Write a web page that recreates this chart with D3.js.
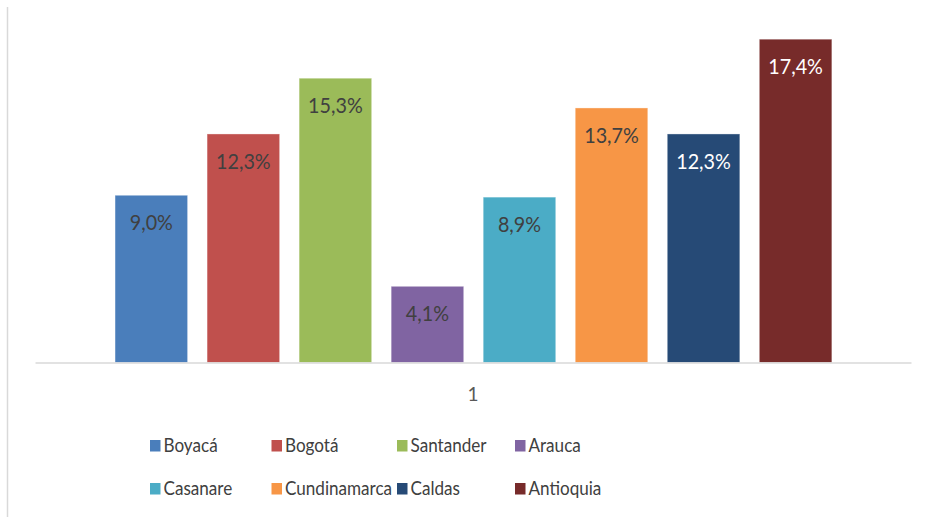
<!DOCTYPE html>
<html>
<head>
<meta charset="utf-8">
<script src="https://cdn.jsdelivr.net/npm/d3@7"></script>
<style>
  body { margin: 0; background: #fff; }
  svg { display: block; font-family: Lato, "Open Sans", sans-serif; }
</style>
</head>
<body>
<svg width="936" height="517"></svg>
<script>
// data
var regions = ["Boyacá", "Bogotá", "Santander", "Arauca", "Casanare", "Cundinamarca", "Caldas", "Antioquia"]
var shares = [9.0, 12.3, 15.3, 4.1, 8.9, 13.7, 12.3, 17.4]
var colors = ["#4a7ebb", "#c0504d", "#9bbb59", "#8064a2", "#4bacc6", "#f79646", "#264a76", "#772b2a"]
var labelColors = ["#404040", "#404040", "#404040", "#404040", "#404040", "#404040", "#ffffff", "#ffffff"]
var category = ["1"]

var svg = d3.select("svg")

var baseY = 362.5

// chart area frame line on the left
svg.append("line")
    .attr("x1", 7.5).attr("x2", 7.5)
    .attr("y1", 7).attr("y2", 517)
    .attr("stroke", "#d9d9d9")
    .attr("stroke-width", 1.5)

var xScale = d3.scaleBand()
    .domain(regions)
    .range([105.3, 841.6])
    .paddingInner(0.212)
    .paddingOuter(0.106)

var catScale = d3.scaleBand()
    .domain(category)
    .range([35, 911])

var yScale = d3.scaleLinear()
    .domain([0, 20])
    .range([baseY, baseY - 20 * 18.58])

var rows = regions.map(function(r, i) {
    return {name: r, value: shares[i], color: colors[i], labelColor: labelColors[i]}
})

// bars
svg.append("g")
    .selectAll("rect")
    .data(rows)
    .enter()
    .append("rect")
    .attr("x", function(d) { return xScale(d.name) })
    .attr("y", function(d) { return yScale(d.value) })
    .attr("width", xScale.bandwidth())
    .attr("height", function(d) { return baseY - yScale(d.value) })
    .attr("fill", function(d) { return d.color })
    .attr("stroke", "rgba(255,255,255,0.35)")
    .attr("stroke-width", 1)

// value labels inside the top of each bar (squeezed a bit to look like Calibri)
svg.append("g")
    .selectAll("text")
    .data(rows)
    .enter()
    .append("text")
    .attr("transform", function(d) {
        return "translate(" + (xScale(d.name) + xScale.bandwidth() / 2) + "," + (yScale(d.value) + 35) + ") scale(0.94,1)"
    })
    .attr("text-anchor", "middle")
    .attr("font-size", "21px")
    .attr("fill", function(d) { return d.labelColor })
    .text(function(d) { return d.value.toFixed(1).replace(".", ",") + "%" })

// category axis
var xAxis = d3.axisBottom(catScale).tickSize(0).tickPadding(0)
var axisG = svg.append("g")
    .attr("transform", "translate(0," + baseY + ")")
    .call(xAxis)
axisG.select(".domain")
    .attr("stroke", "#d9d9d9")
    .attr("stroke-width", 1.5)
axisG.selectAll(".tick text")
    .attr("y", 38.5)
    .attr("dy", 0)
    .attr("font-family", "Lato, 'Open Sans', sans-serif")
    .attr("font-size", "19px")
    .attr("fill", "#595959")

// legend, two rows of four
var legendCols = [150, 271.5, 397, 515]
var legendRows = [452, 495]

var legend = svg.append("g")
    .selectAll("g")
    .data(rows)
    .enter()
    .append("g")
    .attr("transform", function(d, i) {
        return "translate(" + legendCols[i % 4] + "," + legendRows[Math.floor(i / 4)] + ")"
    })

legend.append("rect")
    .attr("x", 0)
    .attr("y", -12)
    .attr("width", 10.5)
    .attr("height", 11.5)
    .attr("fill", function(d) { return d.color })

legend.append("text")
    .attr("transform", "translate(13.5,0) scale(0.9,1)")
    .attr("font-size", "19px")
    .attr("fill", "#404040")
    .text(function(d) { return d.name })
</script>
</body>
</html>
